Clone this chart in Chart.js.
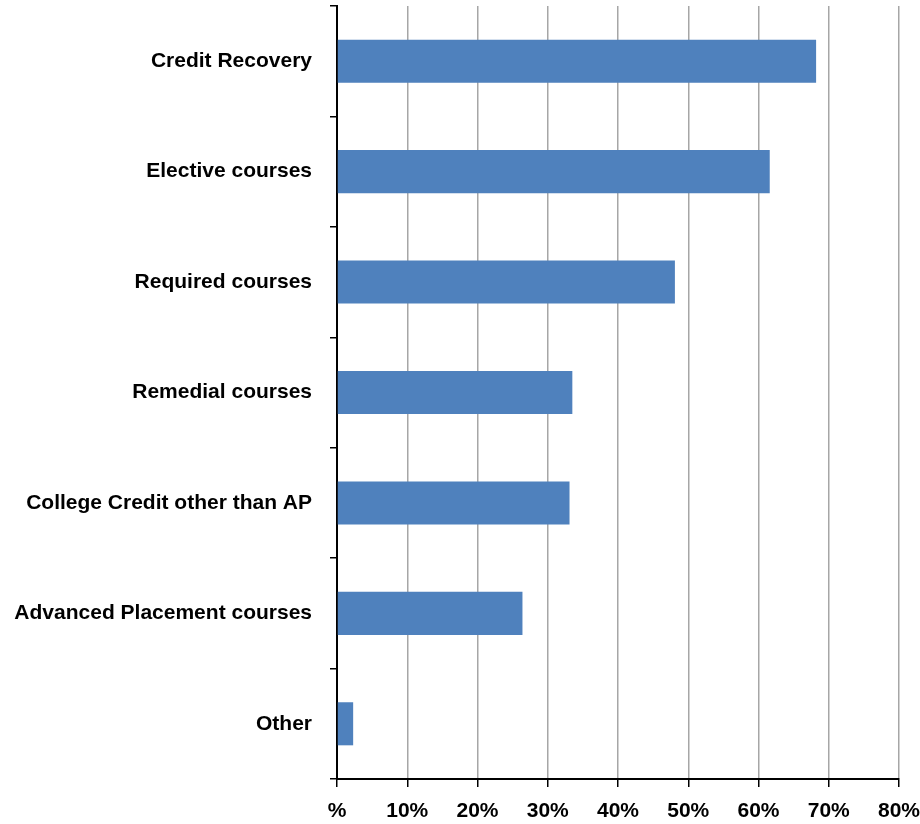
<!DOCTYPE html>
<html>
<head>
<meta charset="utf-8">
<script src="https://cdn.jsdelivr.net/npm/chart.js@4/dist/chart.umd.min.js"></script>
<style>
  html, body { margin: 0; padding: 0; background: #fff; }
  #wrap { width: 920px; height: 824px; }
</style>
</head>
<body>
<div id="wrap"><canvas id="myChart"></canvas></div>
<script>
var categories = ['Credit Recovery', 'Elective courses', 'Required courses', 'Remedial courses',
                  'College Credit other than AP', 'Advanced Placement courses', 'Other'];
var percentages = [68.2, 61.6, 48.1, 33.5, 33.1, 26.4, 2.3];
var tickValues = [0, 10, 20, 30, 40, 50, 60, 70, 80];

var chartdata = {
    labels: categories,
    datasets: [{
        data: percentages,
        backgroundColor: '#4f81bd',
        borderColor: '#4f81bd',
        borderWidth: 0,
        categoryPercentage: 1,
        barPercentage: 0.39
    }]
};

var ctx = document.getElementById('myChart').getContext('2d');
var myChart = new Chart(ctx, {
    type: 'bar',
    data: chartdata,
    options: {
        indexAxis: 'y',
        responsive: true,
        maintainAspectRatio: false,
        animation: false,
        layout: { padding: { top: 6, right: 21, bottom: 0, left: 0 } },
        plugins: { legend: { display: false }, tooltip: { enabled: false } },
        scales: {
            x: {
                min: 0,
                max: 80,
                afterBuildTicks: function(scale) {
                    scale.ticks = tickValues.map(function(v) { return { value: v }; });
                },
                afterFit: function(scale) {
                    scale.height = 45;
                    scale.paddingLeft = 0;
                    scale.paddingRight = 0;
                },
                grid: {
                    color: '#a6a6a6',
                    lineWidth: 1.5,
                    drawTicks: true,
                    tickLength: 8,
                    tickColor: '#000'
                },
                border: { color: '#000', width: 2 },
                ticks: {
                    color: '#000',
                    padding: 12,
                    maxRotation: 0,
                    font: { family: 'Liberation Sans', size: 21, weight: 'bold' },
                    callback: function(v) { return v === 0 ? '%' : v + '%'; }
                }
            },
            y: {
                afterFit: function(scale) {
                    scale.width = 337;
                    scale.paddingTop = 0;
                    scale.paddingBottom = 0;
                },
                grid: {
                    drawOnChartArea: false,
                    drawTicks: true,
                    tickLength: 7,
                    color: '#000',
                    lineWidth: 1.5
                },
                border: { color: '#000', width: 2 },
                ticks: {
                    color: '#000',
                    padding: 18,
                    font: { family: 'Liberation Sans', size: 21, weight: 'bold' }
                }
            }
        }
    }
});
</script>
</body>
</html>
